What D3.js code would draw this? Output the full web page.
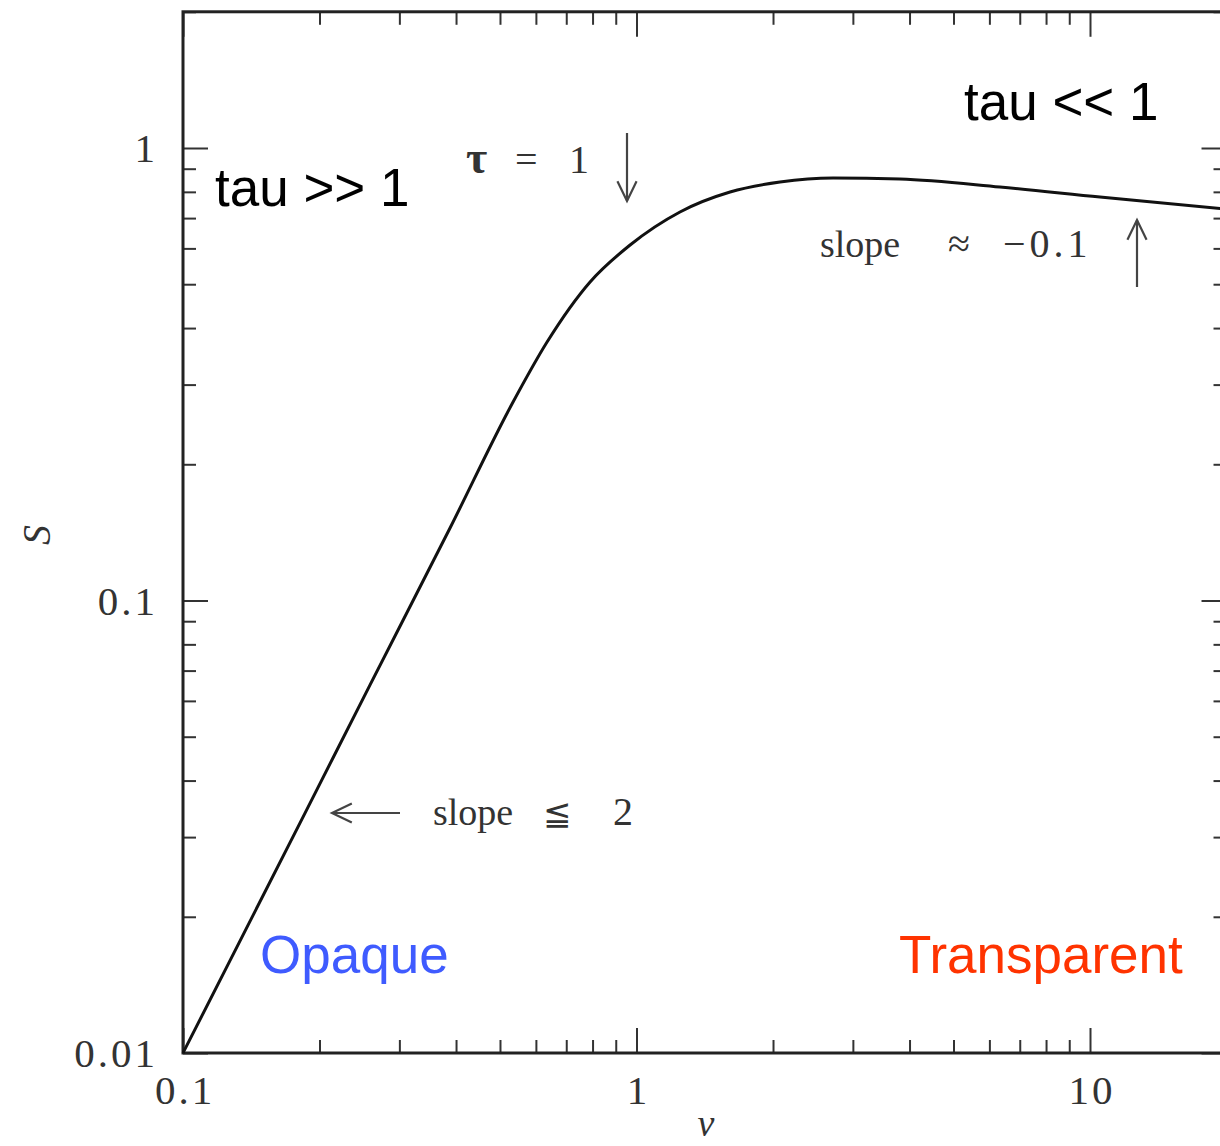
<!DOCTYPE html>
<html>
<head>
<meta charset="UTF-8">
<script src="https://d3js.org/d3.v7.min.js"></script>
<style>
  body { margin: 0; background: #fff; }
  svg { display: block; }
  .lbl { font-family: "Liberation Serif", "Times New Roman", serif; fill: #333; }
  .big { font-family: "Liberation Sans", Arial, sans-serif; font-size: 53px; }
</style>
</head>
<body>
<div id="chart"></div>
<script>
// spectrum S(nu)
const nu = [0.1, 0.1858, 0.2585, 0.388, 0.5314, 0.635, 0.79, 0.968, 1.247, 1.608, 2.072, 2.713, 3.81, 6.33, 10.52, 20];
const flux = [0.01, 0.0339, 0.0651, 0.1446, 0.2718, 0.3726, 0.5058, 0.6104, 0.7222, 0.7994, 0.841, 0.8585, 0.854, 0.82, 0.779, 0.733];

const xMajor = [0.1, 1, 10];
const xMajorLabels = ['0.1', '1', '10'];
const yMajor = [0.01, 0.1, 1];
const yMajorLabels = ['0.01', '0.1', '1'];

const W = 1220, H = 1146;
const decX = 453.5, decY = 452.5;
const x0 = 183, y0 = 1053;

const svg = d3.select('#chart').append('svg')
  .attr('width', W).attr('height', H);

const x = d3.scaleLog().domain([0.1, 20])
  .range([x0, x0 + decX * Math.log10(200)]);
const y = d3.scaleLog().domain([0.01, 2])
  .range([y0, y0 - decY * Math.log10(200)]);

function minors(lo, hi) {
  const out = [];
  for (let d = lo; d < hi; d *= 10)
    for (let k = 2; k <= 9; k++) {
      const v = d * k;
      if (v <= hi) out.push(v);
    }
  return out;
}
const xMinor = minors(0.1, 20);
const yMinor = minors(0.01, 2);

const [xl, xr] = x.range();
const [yb, yt] = y.range();

function drawAxis(gen, tr, vals, size) {
  const g = svg.append('g').attr('transform', tr)
    .call(gen.tickValues(vals).tickSize(size).tickSizeOuter(0).tickFormat(''));
  g.select('.domain').remove();
  g.selectAll('.tick line').attr('stroke', '#333').attr('stroke-width', 2);
}

// ticks on all four sides, pointing inward
drawAxis(d3.axisBottom(x), `translate(0,${yb})`, xMajor, -25);
drawAxis(d3.axisBottom(x), `translate(0,${yb})`, xMinor, -13);
drawAxis(d3.axisTop(x), `translate(0,${yt})`, xMajor, -25);
drawAxis(d3.axisTop(x), `translate(0,${yt})`, xMinor, -13);
drawAxis(d3.axisLeft(y), `translate(${xl},0)`, yMajor, -25);
drawAxis(d3.axisLeft(y), `translate(${xl},0)`, yMinor, -13);
drawAxis(d3.axisRight(y), `translate(${xr},0)`, yMajor, -25);
drawAxis(d3.axisRight(y), `translate(${xr},0)`, yMinor, -13);

// frame
svg.append('rect')
  .attr('x', xl).attr('y', yt)
  .attr('width', xr - xl).attr('height', yb - yt)
  .attr('fill', 'none').attr('stroke', '#222').attr('stroke-width', 3);

// tick labels
svg.selectAll('.xlab').data(xMajor).enter().append('text')
  .attr('class', 'lbl')
  .attr('x', d => x(d) + 2).attr('y', 1104)
  .attr('text-anchor', 'middle')
  .attr('font-size', 41).attr('letter-spacing', 3)
  .text((d, i) => xMajorLabels[i]);

svg.selectAll('.ylab').data(yMajor).enter().append('text')
  .attr('class', 'lbl')
  .attr('x', 158).attr('y', d => y(d) + 14)
  .attr('text-anchor', 'end')
  .attr('font-size', 41).attr('letter-spacing', 3)
  .text((d, i) => yMajorLabels[i]);

// axis titles
svg.append('text').attr('class', 'lbl')
  .attr('transform', 'translate(50,535) rotate(-90)')
  .attr('text-anchor', 'middle')
  .attr('font-size', 40).attr('font-style', 'italic')
  .text('S');
svg.append('text').attr('class', 'lbl')
  .attr('x', 706).attr('y', 1136)
  .attr('text-anchor', 'middle')
  .attr('font-size', 38).attr('font-style', 'italic')
  .text('ν');

// curve
const line = d3.line()
  .x(d => x(d[0])).y(d => y(d[1]))
  .curve(d3.curveMonotoneX);
svg.append('path')
  .datum(nu.map((v, i) => [v, flux[i]]))
  .attr('d', line)
  .attr('fill', 'none').attr('stroke', '#111').attr('stroke-width', 3);

// annotations
function note(px, py, s, size, ls) {
  svg.append('text').attr('class', 'lbl')
    .attr('x', px).attr('y', py)
    .attr('font-size', size || 38)
    .attr('letter-spacing', ls || 0)
    .text(s);
}
function arrow(x1, y1, x2, y2) {
  const a = Math.atan2(y2 - y1, x2 - x1), L = 22, sp = 0.45;
  const g = svg.append('g').attr('stroke', '#444').attr('stroke-width', 2.2).attr('fill', 'none');
  g.append('line').attr('x1', x1).attr('y1', y1).attr('x2', x2).attr('y2', y2);
  g.append('path').attr('d',
    `M${x2 - L * Math.cos(a - sp)},${y2 - L * Math.sin(a - sp)}L${x2},${y2}L${x2 - L * Math.cos(a + sp)},${y2 - L * Math.sin(a + sp)}`);
}

svg.append('text').attr('class', 'lbl')
  .attr('x', 466).attr('y', 173).attr('font-size', 46).attr('font-weight', 'bold')
  .text('τ');
note(515, 173, '=', 40);
note(569, 173, '1', 40);
arrow(627, 133, 627, 201);

note(820, 257, 'slope', 38);
note(948, 257, '≈', 40);
note(1003, 257, '−0.1', 40, 4);
arrow(1137, 287, 1137, 220);

note(433, 825, 'slope', 38);
note(543, 825, '≦', 34);
note(613, 825, '2', 40);
arrow(400, 813, 332, 813);

svg.append('text').attr('class', 'big').attr('x', 215).attr('y', 206).attr('fill', '#000').text('tau >> 1');
svg.append('text').attr('class', 'big').attr('x', 964).attr('y', 120).attr('fill', '#000').text('tau << 1');
svg.append('text').attr('class', 'big').attr('x', 260).attr('y', 973).attr('fill', '#3f5bff').text('Opaque');
svg.append('text').attr('class', 'big').attr('x', 899).attr('y', 973).attr('fill', '#ff3300').text('Transparent');
</script>
</body>
</html>
